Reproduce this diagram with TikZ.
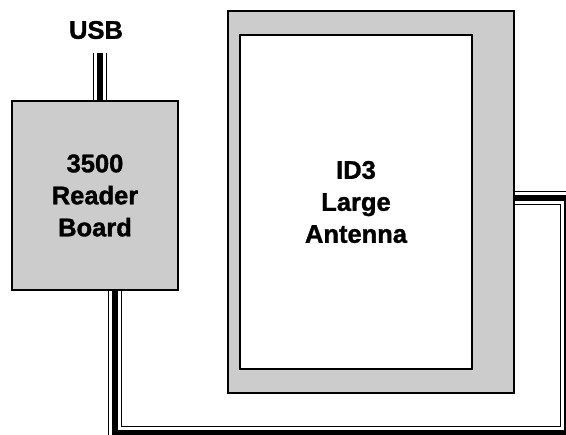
\documentclass[tikz,border=0pt]{standalone}
\usepackage{fontspec}
\setmainfont{Liberation Sans}
\newfontfamily\heavyfont{Liberation Sans Bold}[FakeBold=1.3]
\definecolor{boxgray}{HTML}{CCCCCC}
\pgfdeclarelayer{background}
\pgfsetlayers{background,main}
\begin{document}
\begin{tikzpicture}[x=1pt,y=-1pt,
  box/.style={draw=black, fill=boxgray, line width=2.2pt, rectangle, inner sep=0pt},
  innerbox/.style={draw=black, fill=white, line width=2.6pt, rectangle, inner sep=0pt},
  lbl/.style={font=\heavyfont\fontsize{25.5}{32}\selectfont, align=center, text=black},
  cable/.style={line width=5.5pt, line join=miter,
    preaction={draw=black, line width=14pt},
    preaction={draw=white, line width=11.4pt}}]
\useasboundingbox (0,0) rectangle (566,435);
\clip (0,0) rectangle (566,435);
% antenna
\node[box, minimum width=286pt, minimum height=382pt] (antenna) at (371,202) {};
\node[innerbox, minimum width=232pt, minimum height=334pt, lbl] (antin) at (356,202) {ID3\\Large\\Antenna};
% reader board
\node[box, minimum width=166pt, minimum height=189pt, lbl] (reader) at (95,195.5) {3500\\Reader\\Board};
% USB
\node[lbl, inner sep=0pt] (usb) at (96,30) {USB};
\coordinate (usbtop) at (100,53);
\coordinate (corner) at (567,433);
\begin{pgfonlayer}{background}
\draw[cable] (usbtop) -- (usbtop |- reader.north);
\draw[cable] ([xshift=20pt]reader.south) |- (corner) |- ([yshift=4pt]antenna.east);
\end{pgfonlayer}
\end{tikzpicture}
\end{document}
